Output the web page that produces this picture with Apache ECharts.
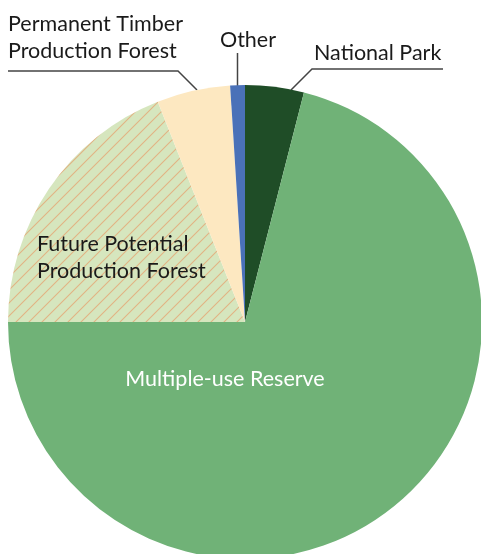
<!DOCTYPE html>
<html>
<head>
<meta charset="utf-8">
<script src="https://cdn.jsdelivr.net/npm/echarts@6/dist/echarts.min.js"></script>
<style>
html,body{margin:0;padding:0;background:#fff;}
#chart{width:481px;height:554px;}
</style>
</head>
<body>
<div id="chart"></div>
<script>
// ---- data ----
const categories = ['National Park', 'Multiple-use Reserve', 'Future Potential\nProduction Forest', 'Permanent Timber\nProduction Forest', 'Other'];
const values = [4, 71, 19, 5, 1];

// ---- styles ----
const sliceColors = ['#1f4d27', '#70b277', null, '#fde8c1', '#4a71b8'];
const labelColors = ['#1a1a1a', '#ffffff', '#1a1a1a', '#1a1a1a', '#1a1a1a'];
const labelPlacement = [
  { x: 314, y: 53, align: 'left', line: [[291, 90], [312, 69], [443, 69]] },
  { x: 225, y: 379, align: 'center', line: null },
  { x: 37, y: 258, align: 'left', line: null },
  { x: 8, y: 38, align: 'left', line: [[197, 90], [178, 71], [8, 71]] },
  { x: 248, y: 40, align: 'center', line: [[237.5, 86], [237.5, 53]] }
];

function hatchPattern() {
  const s = 13;
  const c = document.createElement('canvas');
  c.width = s; c.height = s;
  const g = c.getContext('2d');
  g.fillStyle = '#d6e6be';
  g.fillRect(0, 0, s, s);
  g.strokeStyle = '#e2b384';
  g.lineWidth = 1.1;
  g.beginPath();
  g.moveTo(-2, s + 2); g.lineTo(s + 2, -2);
  g.moveTo(-2, 2); g.lineTo(2, -2);
  g.moveTo(s - 2, s + 2); g.lineTo(s + 2, s - 2);
  g.stroke();
  return { image: c, repeat: 'repeat' };
}

const chart = echarts.init(document.getElementById('chart'), null, { renderer: 'canvas' });
const data = categories.map((name, i) => ({
  name: name,
  value: values[i],
  itemStyle: { color: sliceColors[i] || hatchPattern() },
  label: { color: labelColors[i] },
  labelLine: { show: !!labelPlacement[i].line }
}));

chart.setOption({
  animation: false,
  series: [{
    type: 'pie',
    center: [245, 322],
    radius: 237,
    startAngle: 90,
    clockwise: true,
    avoidLabelOverlap: false,
    silent: true,
    itemStyle: { borderWidth: 0 },
    label: {
      show: true,
      position: 'outside',
      formatter: '{b}',
      fontFamily: 'Lato',
      fontSize: 21.5,
      lineHeight: 27,
      color: '#1a1a1a'
    },
    labelLine: {
      show: true,
      lineStyle: { color: '#444', width: 1.5 },
      length: 10,
      length2: 10
    },
    labelLayout: function (params) {
      const p = labelPlacement[params.dataIndex];
      const out = { x: p.x, y: p.y, align: p.align, verticalAlign: 'middle', hideOverlap: false };
      if (p.line) out.labelLinePoints = p.line;
      return out;
    },
    data: data
  }]
});
</script>
</body>
</html>
